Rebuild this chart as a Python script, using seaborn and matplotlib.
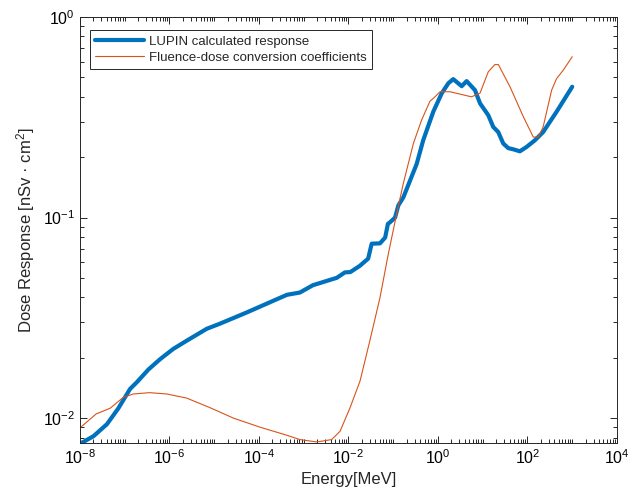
import numpy as np
import pandas as pd
import matplotlib
matplotlib.use('Agg')
import matplotlib.pyplot as plt
import matplotlib.ticker as mticker
import seaborn as sns

# LUPIN calculated response (energy in MeV, response in nSv cm^2)
lupin_energy = [1.0e-8, 2.0e-8, 4.0e-8, 7.2e-8, 1.32e-7, 1.86e-7, 3.4e-7, 6.2e-7,
                1.2e-6, 2.4e-6, 6.8e-6, 1.35e-5, 5.4e-5, 2.1e-4, 4.2e-4, 8.2e-4,
                1.6e-3, 5.5e-3, 8.3e-3, 1.1e-2, 1.8e-2, 2.75e-2, 3.3e-2, 5.06e-2,
                6.6e-2, 7.6e-2, 8.5e-2, 0.11, 0.13, 0.168, 0.334, 0.468, 0.785,
                1.21, 1.70, 2.19, 3.39, 4.37, 6.71, 8.71, 13.3, 17.2, 22.2, 28.8,
                37.2, 48.2, 67.6, 95.5, 147, 224, 447, 1000]
lupin_resp = [0.00745, 0.00813, 0.00933, 0.0112, 0.0140, 0.0151, 0.0175, 0.0197,
              0.0221, 0.0243, 0.0279, 0.0296, 0.0337, 0.0385, 0.0412, 0.0423,
              0.0460, 0.0501, 0.0533, 0.0535, 0.0575, 0.0624, 0.0741, 0.0744,
              0.0795, 0.0930, 0.0948, 0.100, 0.115, 0.126, 0.185, 0.243, 0.337,
              0.416, 0.467, 0.490, 0.452, 0.479, 0.432, 0.371, 0.324, 0.283, 0.267, 0.234,
              0.222, 0.219, 0.214, 0.225, 0.243, 0.267, 0.337, 0.449]

# fluence-to-dose conversion coefficients
coef_energy = [1.0e-8, 2.3e-8, 4.7e-8, 9.3e-8, 1.55e-7, 3.6e-7, 8.7e-7, 2.4e-6,
               7.9e-6, 2.7e-5, 1.05e-4, 4.2e-4, 8.2e-4, 1.95e-3, 4.2e-3, 6.5e-3,
               1.08e-2, 1.81e-2, 3.0e-2, 5.06e-2, 7.76e-2, 0.119, 0.168, 0.282, 0.427,
               0.66, 0.857, 1.11, 1.86, 5.6, 8.7, 13.3, 18.6, 22.4, 40.7, 81,
               135, 174, 224, 347, 447, 631, 1000]
coef_resp = [0.00895, 0.0105, 0.0112, 0.0127, 0.0132, 0.0134, 0.0132, 0.0126,
             0.0113, 0.0100, 0.00902, 0.00822, 0.00782, 0.00761, 0.00782, 0.00861,
             0.01125, 0.0153, 0.0243, 0.0399, 0.0658, 0.104, 0.148, 0.234, 0.305,
             0.380, 0.400, 0.424, 0.424, 0.400, 0.417, 0.533, 0.579, 0.579, 0.449, 0.318,
             0.252, 0.252, 0.283, 0.432, 0.493, 0.543, 0.634]

sns.set_style('ticks', {'xtick.direction': 'in', 'ytick.direction': 'in',
                        'axes.edgecolor': '#262626'})
plt.rcParams['font.family'] = ['Liberation Sans', 'DejaVu Sans']
plt.rcParams['mathtext.default'] = 'regular'

fig = plt.figure(figsize=(6.42, 5.03), dpi=100)
ax = fig.add_axes([0.1246, 0.1193, 0.8364, 0.8469])

sns.lineplot(x=lupin_energy, y=lupin_resp, ax=ax, color='#0072BD', linewidth=3,
             label='LUPIN calculated response', estimator=None, sort=False)
sns.lineplot(x=coef_energy, y=coef_resp, ax=ax, color='#D95319', linewidth=0.8,
             label='Fluence-dose conversion coefficients', estimator=None, sort=False)

ax.set_xscale('log')
ax.set_yscale('log')
ax.set_xlim(1e-8, 1e4)
ax.set_ylim(0.00752, 1.0)

ax.xaxis.set_major_locator(mticker.FixedLocator([1e-8, 1e-6, 1e-4, 1e-2, 1e0, 1e2, 1e4]))
ax.xaxis.set_major_formatter(mticker.LogFormatterSciNotation())
ax.xaxis.set_minor_locator(mticker.LogLocator(base=10, subs=np.arange(1, 10), numticks=40))
ax.xaxis.set_minor_formatter(mticker.NullFormatter())
ax.yaxis.set_major_locator(mticker.FixedLocator([1e-2, 1e-1, 1e0]))
ax.yaxis.set_minor_locator(mticker.LogLocator(base=10, subs=np.arange(2, 10), numticks=20))
ax.yaxis.set_minor_formatter(mticker.NullFormatter())

ax.tick_params(which='both', direction='in', top=True, right=True, bottom=True, left=True,
               colors='#262626', labelcolor='black', labelsize=11.5, width=0.7)
ax.tick_params(which='major', length=5)
ax.tick_params(which='minor', length=2.8)
for s in ax.spines.values():
    s.set_visible(True)
    s.set_color('#262626')
    s.set_linewidth(0.7)

ax.set_xlabel('Energy[MeV]', fontsize=12)
ax.set_ylabel('Dose Response [nSv · cm$^{2}$]', fontsize=12)

leg = ax.legend(loc='upper left', fontsize=9.5, frameon=True, fancybox=False,
                edgecolor='#262626', framealpha=1, borderpad=0.4, borderaxespad=0,
                handlelength=3.7, handletextpad=0.35, labelspacing=0.3,
                bbox_to_anchor=(0.0186, 0.9695))
leg.get_frame().set_linewidth(0.7)

fig.savefig('out.png', dpi=100)
